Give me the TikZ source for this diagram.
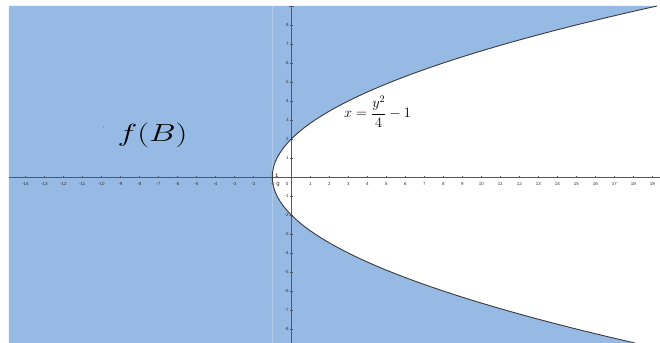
\documentclass[tikz,border=0pt]{standalone}
\usepackage{fontspec}
\newfontfamily\ticksf{Liberation Sans}
\definecolor{regionblue}{HTML}{97BAE4}
\definecolor{axisgray}{HTML}{505860}
\definecolor{curvegray}{HTML}{3A3A3A}
\definecolor{ticktext}{HTML}{333333}
\tikzset{
  axisline/.style={draw=axisgray, line width=0.8bp},
  ticklab/.style={font=\ticksf\fontsize{4.5bp}{5bp}\selectfont, text=ticktext, inner sep=0pt},
  ticklabel/.style={ticklab, text height=3.3bp, text depth=0bp},
  curveline/.style={draw=curvegray, line width=0.9bp},
}
\begin{document}
\begin{tikzpicture}[x=19bp,y=19bp]
\useasboundingbox (-15.3316,-8.7368) rectangle (19.4053,9.3158);
% blue region
\fill[regionblue] (-14.858,9) -- plot[domain=9:-8.7368,samples=120,smooth] ({\x*\x/4-1},\x) -- (-14.858,-8.7368) -- cycle;
% faint vertical line x=-1
\draw[white, opacity=0.25, line width=0.8bp] (-1,-8.7368) -- (-1,9);
% axes
\coordinate (xl) at (-14.858,0);
\coordinate (xr) at (19.4053,0);
\coordinate (yb) at (0,-8.7368);
\coordinate (yt) at (0,9);
\draw[axisline] (xl) -- (xr);
\draw[axisline] (yb) -- (yt);
\draw[axisline] (-0.12,9) -- (0.12,9);
\foreach \i in {-14,...,-1,1,2,...,19}{
  \draw[axisgray, line width=0.5bp] (\i,-0.07) -- (\i,0.07);
  \node[ticklabel] (xt\i) at (\i,-0.34) {\i};
}
\foreach \j in {-8,...,-1,1,2,...,8}{
  \draw[axisgray, line width=0.5bp] (-0.07,\j) -- (0.07,\j);
  \node[ticklabel, anchor=east] (yt\j) at (-0.13,\j) {\j};
}
\node[ticklabel] (zero) at (-0.22,-0.34) {0};
% curve
\draw[curveline] plot[domain=9:-8.7368,samples=120,smooth] ({\x*\x/4-1},\x);
% small marks near vertex
\node[ticklab, font=\ticksf\fontsize{5bp}{6bp}\selectfont\bfseries] (mk) at (-0.77,0.05) {1};
\node[ticklab, font=\ticksf\fontsize{6bp}{7bp}\selectfont] (glab) at (-0.7,-0.42) {g};
% dot
\fill[gray!80!regionblue] (-9.9,2.64) circle (0.04);
% labels
\node[inner sep=0pt, font=\fontsize{30bp}{34bp}\selectfont, xscale=1.35] (fB) at (-7.3,2.21) {$f(B)$};
\node[inner sep=0pt, font=\fontsize{14bp}{16bp}\selectfont] (eq) at (4.54,3.44) {$\displaystyle x=\frac{y^2}{4}-1$};
\end{tikzpicture}
\end{document}
